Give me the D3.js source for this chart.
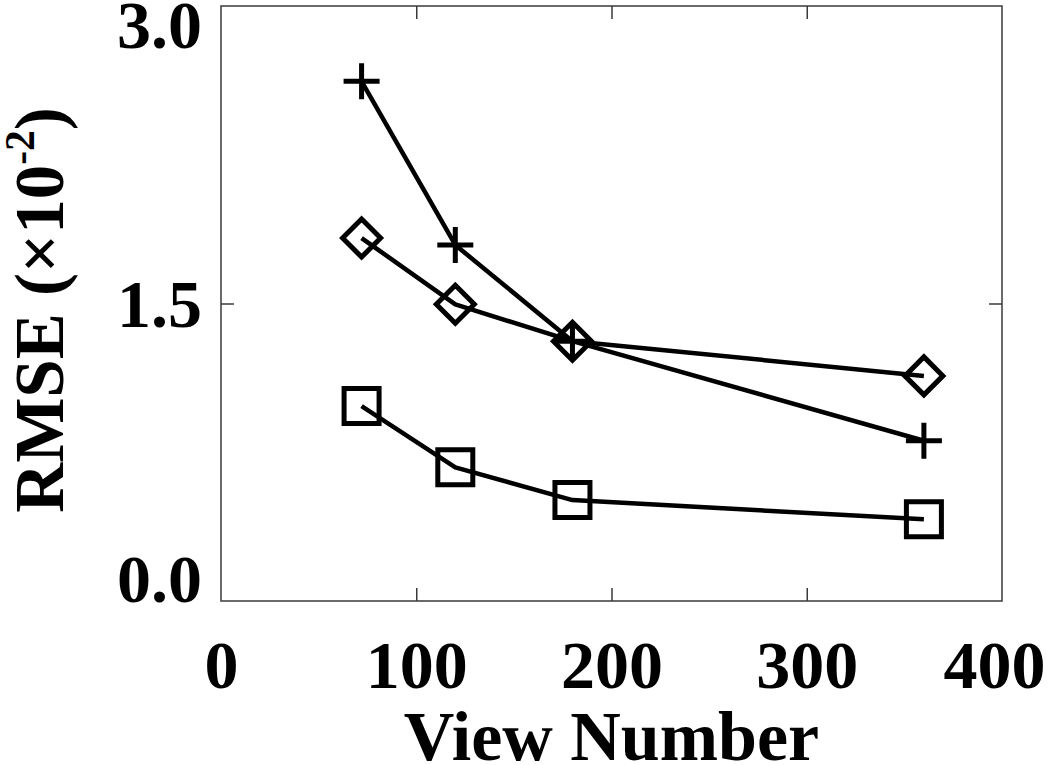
<!DOCTYPE html>
<html>
<head>
<meta charset="utf-8">
<script src="https://cdn.jsdelivr.net/npm/d3@7"></script>
<style>
  html, body { margin: 0; padding: 0; background: #fff; }
  svg { display: block; }
  text { font-family: "Liberation Serif", "Times New Roman", serif; font-weight: bold; fill: #000; }
</style>
</head>
<body>
<svg id="chart" width="1050" height="765"></svg>
<script>
// ---- data ----
const viewNumbers = [72, 120, 180, 360];
const plusValues = [2.62, 1.795, 1.31, 0.808];
const diamondValues = [1.83, 1.496, 1.31, 1.135];
const squareValues = [0.983, 0.674, 0.509, 0.412];
const xTicks = [0, 100, 200, 300, 400];
const yTicks = [0.0, 1.5, 3.0];
const xTitle = "View Number";
const yTitleMain = "RMSE (×10";
const yTitleSup = "-2";
const yTitleEnd = ")";

const series = [
  { name: "plus", values: plusValues, symbol: "plus" },
  { name: "diamond", values: diamondValues, symbol: "diamond" },
  { name: "square", values: squareValues, symbol: "square" }
];

// ---- layout ----
const W = 1050;
const pLeft = 221, pRight = 1002, pTop = 6, pBottom = 601;
const svg = d3.select("#chart");
const x = d3.scaleLinear().domain([0, 400]).range([pLeft, pRight]);
const y = d3.scaleLinear().domain([0, 3]).range([pBottom, pTop]);
const tickLen = 13;
const frameColor = "#3a3a3a";
const fontSize = 68;

// frame
svg.append("rect")
  .attr("x", pLeft).attr("y", pTop)
  .attr("width", pRight - pLeft).attr("height", pBottom - pTop)
  .attr("fill", "none").attr("stroke", frameColor).attr("stroke-width", 1.5);

// axes (inner ticks)
const xAxis = svg.append("g").attr("transform", `translate(0,${pBottom})`)
  .call(d3.axisBottom(x).tickValues(xTicks).tickSizeInner(-tickLen).tickSizeOuter(0).tickFormat(d3.format("d")));
const xAxisTop = svg.append("g").attr("transform", `translate(0,${pTop})`)
  .call(d3.axisTop(x).tickValues(xTicks).tickSizeInner(-tickLen).tickSizeOuter(0).tickFormat(""));
const yAxis = svg.append("g").attr("transform", `translate(${pLeft},0)`)
  .call(d3.axisLeft(y).tickValues(yTicks).tickSizeInner(-tickLen).tickSizeOuter(0).tickFormat(d3.format(".1f")));
const yAxisRight = svg.append("g").attr("transform", `translate(${pRight},0)`)
  .call(d3.axisRight(y).tickValues(yTicks).tickSizeInner(-tickLen).tickSizeOuter(0).tickFormat(""));

[xAxis, xAxisTop, yAxis, yAxisRight].forEach(g => {
  g.select(".domain").remove();
  g.selectAll(".tick line").attr("stroke", frameColor).attr("stroke-width", 1.5);
});
// ticks that coincide with the frame edges are hidden
xAxis.selectAll(".tick").filter(d => d === 0 || d === 400).select("line").remove();
xAxisTop.selectAll(".tick").filter(d => d === 0 || d === 400).select("line").remove();
yAxis.selectAll(".tick").filter(d => d === 0 || d === 3).select("line").remove();
yAxisRight.selectAll(".tick").filter(d => d === 0 || d === 3).select("line").remove();

[xAxis, yAxis].forEach(g => {
  g.attr("font-family", null).attr("font-size", null);
  g.selectAll(".tick text")
    .attr("font-size", fontSize)
    .style("font-family", "'Liberation Serif', serif")
    .style("font-weight", "bold")
    .attr("fill", "#000");
});

// x labels: centred under tick, kept inside the page width
xAxis.selectAll(".tick").each(function(d) {
  const t = d3.select(this).select("text").attr("y", 87).attr("dy", 0);
  const half = t.node().getComputedTextLength() / 2;
  const tx = x(d);
  const cx = Math.min(tx, W - 5 - half);
  t.attr("x", cx - tx);
});

// y labels: centred on tick, clamped within the plot's vertical span
yAxis.selectAll(".tick").each(function(d) {
  const ty = y(d);
  const baseline = Math.min(Math.max(ty + 23, 47), 601);
  d3.select(this).select("text").attr("x", -19).attr("dy", 0).attr("y", baseline - ty);
});

// titles
svg.append("text")
  .attr("x", x(200)).attr("y", 760)
  .attr("text-anchor", "middle")
  .attr("font-size", 70)
  .text(xTitle);

const yt = svg.append("text")
  .attr("transform", "translate(63,310) rotate(-90)")
  .attr("text-anchor", "middle")
  .attr("font-size", 69);
yt.append("tspan").text(yTitleMain);
yt.append("tspan").attr("font-size", 69 * 0.6).attr("dy", -29).text(yTitleSup);
yt.append("tspan").attr("dy", 29).text(yTitleEnd);

// lines
const line = d3.line().x(d => x(d.v)).y(d => y(d.r));
series.forEach(s => {
  const pts = viewNumbers.map((v, i) => ({ v, r: s.values[i] }));
  svg.append("path")
    .datum(pts)
    .attr("d", line)
    .attr("fill", "none")
    .attr("stroke", "#000")
    .attr("stroke-width", 4.5)
    .attr("stroke-linejoin", "round");
});

// markers
const symPaths = {
  plus: "M-18,0H18M0,-18V18",
  diamond: "M0,-19L19,0L0,19L-19,0Z",
  square: "M-17.5,-17.5H17.5V17.5H-17.5Z"
};
series.forEach(s => {
  svg.append("g").selectAll("path")
    .data(viewNumbers.map((v, i) => ({ v, r: s.values[i] })))
    .join("path")
    .attr("transform", d => `translate(${x(d.v)},${y(d.r)})`)
    .attr("d", symPaths[s.symbol])
    .attr("fill", "none")
    .attr("stroke", "#000")
    .attr("stroke-width", 5)
    .attr("stroke-linejoin", "miter");
});
</script>
</body>
</html>
